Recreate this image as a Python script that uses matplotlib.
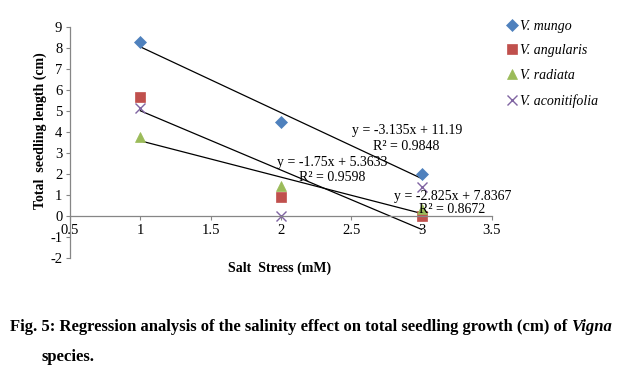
import numpy as np
import matplotlib
matplotlib.use("Agg")
import matplotlib.pyplot as plt

salt = [1, 2, 3]
mungo = [8.28, 4.47, 2.01]
angularis = [5.65, 0.91, 0.0]
radiata = [3.78, 1.45, 0.32]
aconitifolia = [5.12, 0.0, 1.38]

series = [
    ("V. mungo", mungo, "D", "#4F81BD", 6.2, True),
    ("V. angularis", angularis, "s", "#C0504D", 7.5, True),
    ("V. radiata", radiata, "^", "#9BBB59", 7.0, True),
    ("V. aconitifolia", aconitifolia, "x", "#8064A2", 7.5, False),
]
equations = [
    ("y = -3.135x + 11.19", 2.897, 4.05),
    ("R² = 0.9848", 2.89, 3.33),
    ("y = -1.75x + 5.3633", 2.363, 2.57),
    ("R² = 0.9598", 2.363, 1.81),
    ("y = -2.825x + 7.8367", 3.224, 0.95),
    ("R² = 0.8672", 3.217, 0.29),
]
x_ticks = [0.5, 1, 1.5, 2, 2.5, 3, 3.5]
y_ticks = list(range(-2, 10))

plt.rcParams['font.family'] = ['Liberation Serif', 'DejaVu Serif']
plt.rcParams['axes.unicode_minus'] = False

fig = plt.figure(figsize=(6.23, 3.70), dpi=100)
ax = fig.add_axes([70/623, 1-258/370, 422/623, 231/370])

for name, vals, mk, col, ms, trend in series:
    ax.plot(salt, vals, linestyle="none", marker=mk, color=col, markersize=ms,
            markeredgewidth=1.0 if mk == "x" else 0.5, label=name, clip_on=False)
    if trend:
        m, b = np.polyfit(salt, vals, 1)
        xx = np.array([salt[0], salt[-1]])
        ax.plot(xx, m*xx + b, color="black", lw=0.9, zorder=1)

ax.set_xlim(0.5, 3.5)
ax.set_ylim(-2, 9)
ax.set_xticks(x_ticks)
ax.set_xticklabels([f"{t:g}" for t in x_ticks])
ax.set_yticks(y_ticks)
ax.spines['top'].set_visible(False)
ax.spines['right'].set_visible(False)
ax.spines['bottom'].set_position(('data', 0))
for s in ['left', 'bottom']:
    ax.spines[s].set_color('#868686')
    ax.spines[s].set_linewidth(0.9)
ax.tick_params(axis='both', direction='out', length=3, color='#868686', labelsize=10.5, pad=2.5)

for txt, ex, ey in equations:
    ax.text(ex, ey, txt, fontsize=10, ha='center', va='center')

leg = ax.legend(loc='upper left', bbox_to_anchor=(498/623, 1-14/370), bbox_transform=fig.transFigure,
                frameon=False, prop={'style': 'italic', 'size': 10}, handletextpad=0.0,
                handlelength=1.2, labelspacing=0.85, borderaxespad=0)

fig.text(40/623, 1-131/370, "Total  seedling length (cm)", rotation=90, ha='center', va='center',
         fontsize=10, fontweight='bold')
fig.text(280/623, 1-268/370, "Salt  Stress (mM)", ha='center', va='center', fontsize=10, fontweight='bold')

t1 = fig.text(10/623, 1-327/370,
              "Fig. 5: Regression analysis of the salinity effect on total seedling growth (cm) of ",
              ha='left', va='center', fontsize=12, fontweight='bold')
fig.canvas.draw()
bb = t1.get_window_extent(renderer=fig.canvas.get_renderer())
fig.text(bb.x1/fig.bbox.width, 1-327/370, "Vigna", ha='left', va='center', fontsize=12,
         fontweight='bold', style='italic')
fig.text(41/623, 1-357/370, "species.", ha='left', va='center', fontsize=12, fontweight='bold')

fig.savefig("out.png", dpi=100)
